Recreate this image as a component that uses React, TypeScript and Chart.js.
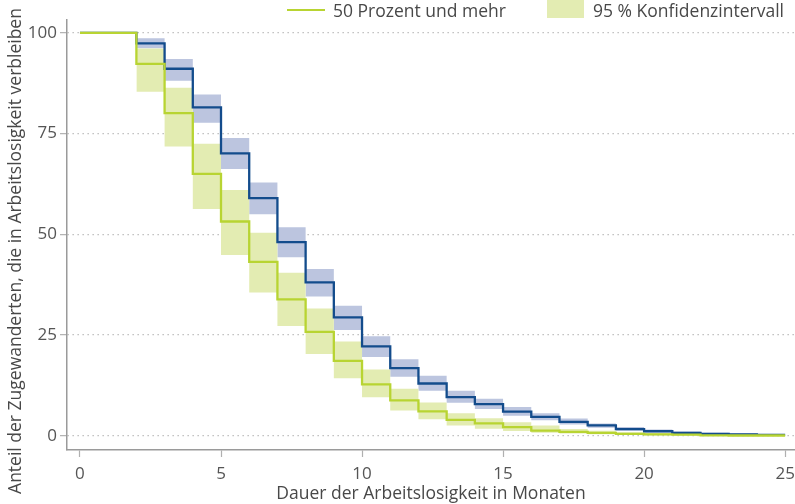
import { useEffect, useRef } from "react";
import { Chart, registerables } from "chart.js";

Chart.register(...registerables);

// ---- data ----
const months = [0, 1, 2, 3, 4, 5, 6, 7, 8, 9, 10, 11, 12, 13, 14, 15, 16, 17, 18, 19, 20, 21, 22, 23, 24];
const endMonth = 25;
const ciStartMonth = 2;
const xTicks = [0, 5, 10, 15, 20, 25];
const yTicks = [0, 25, 50, 75, 100];

// Reference group (blue)
const blueLine = [100, 100, 97.4, 91.1, 81.5, 70.1, 59.0, 48.1, 38.1, 29.4, 22.2, 16.8, 13.0, 9.6, 7.9, 6.0, 4.7, 3.5, 2.6, 1.7, 1.15, 0.75, 0.5, 0.35, 0.25];
const blueUpper = [98.7, 93.5, 84.7, 73.9, 62.9, 51.8, 41.4, 32.3, 24.7, 19.0, 14.9, 11.2, 9.2, 7.2, 5.6, 4.3, 3.1, 2.2, 1.6, 1.1, 0.8, 0.6, 0.5];
const blueLower = [96.2, 88.1, 77.7, 66.2, 55.0, 44.3, 34.6, 26.3, 19.6, 14.7, 11.2, 8.2, 6.7, 5.0, 3.9, 2.8, 2.0, 1.3, 0.85, 0.5, 0.3, 0.15, 0.1];

// "50 Prozent und mehr" (green)
const greenLine = [100, 100, 92.3, 80.1, 65.0, 53.2, 43.2, 33.9, 25.8, 18.6, 12.8, 8.8, 6.1, 4.0, 3.1, 2.2, 1.3, 1.0, 0.75, 0.5, 0.4, 0.3, 0.15, 0.1, 0.1];
const greenUpper = [96.1, 86.4, 72.5, 61.0, 50.4, 40.5, 31.6, 23.4, 16.5, 11.7, 8.3, 5.6, 4.4, 3.4, 2.6, 1.7, 1.3, 0.9, 0.7, 0.55, 0.35, 0.3, 0.25];
const greenLower = [85.4, 71.8, 56.3, 44.9, 35.6, 27.3, 20.3, 14.3, 9.6, 6.3, 4.1, 2.6, 1.8, 1.2, 0.8, 0.6, 0.4, 0.25, 0.15, 0.1, 0.05, 0, 0];

const legendLineLabel = "50 Prozent und mehr";
const legendBoxLabel = "95 % Konfidenzintervall";
const xTitle = "Dauer der Arbeitslosigkeit in Monaten";
const yTitle = "Anteil der Zugewanderten, die in Arbeitslosigkeit verbleiben";

// ---- styles ----
const FONT = "'Open Sans', Lato, sans-serif";
const BLUE = "#134c8c";
const BLUE_BAND = "#bcc5df";
const GREEN = "#b8d432";
const GREEN_BAND = "#e3ecb2";
const TEXT = "#484848";
const AXIS = "#9a9a9a";

function stepPoints(values: number[], start: number) {
  const pts = values.map((v, i) => ({ x: start + i, y: v }));
  pts.push({ x: endMonth, y: values[values.length - 1] });
  return pts;
}

const textPlugin = {
  id: "texts",
  afterDraw(chart: any) {
    const ctx = chart.ctx as CanvasRenderingContext2D;
    const area = chart.chartArea;
    ctx.save();
    ctx.fillStyle = TEXT;
    ctx.font = `17.5px ${FONT}`;
    // x title
    ctx.textAlign = "center";
    ctx.textBaseline = "middle";
    ctx.fillText(xTitle, (area.left + area.right) / 2, 494);
    // y title
    ctx.save();
    ctx.translate(16, 251);
    ctx.rotate(-Math.PI / 2);
    ctx.fillText(yTitle, 0, 0);
    ctx.restore();
    // legend
    ctx.strokeStyle = GREEN;
    ctx.lineWidth = 2;
    ctx.beginPath();
    ctx.moveTo(287, 10);
    ctx.lineTo(325, 10);
    ctx.stroke();
    ctx.fillStyle = GREEN_BAND;
    ctx.fillRect(547, 0, 37, 18);
    ctx.fillStyle = TEXT;
    ctx.textAlign = "left";
    ctx.textBaseline = "alphabetic";
    ctx.fillText(legendLineLabel, 333, 17);
    ctx.fillText(legendBoxLabel, 593, 17);
    ctx.restore();
  },
};

export default function App() {
  const ref = useRef<HTMLCanvasElement | null>(null);
  useEffect(() => {
    if (!ref.current) return;
    const chart = new Chart(ref.current, {
      type: "line",
      data: {
        datasets: [
          {
            label: legendLineLabel,
            data: stepPoints(greenLine, months[0]),
            borderColor: GREEN,
            borderWidth: 2.3,
            stepped: true,
            pointRadius: 0,
            fill: false,
          },
          {
            label: "Unter 50 Prozent",
            data: stepPoints(blueLine, months[0]),
            borderColor: BLUE,
            borderWidth: 2.3,
            stepped: true,
            pointRadius: 0,
            fill: false,
          },
          {
            label: "KI oben grün",
            data: stepPoints(greenUpper, ciStartMonth),
            borderWidth: 0,
            borderColor: "rgba(0,0,0,0)",
            backgroundColor: GREEN_BAND,
            stepped: true,
            pointRadius: 0,
            fill: "+1",
          },
          {
            label: "KI unten grün",
            data: stepPoints(greenLower, ciStartMonth),
            borderWidth: 0,
            borderColor: "rgba(0,0,0,0)",
            stepped: true,
            pointRadius: 0,
            fill: false,
          },
          {
            label: "KI oben blau",
            data: stepPoints(blueUpper, ciStartMonth),
            borderWidth: 0,
            borderColor: "rgba(0,0,0,0)",
            backgroundColor: BLUE_BAND,
            stepped: true,
            pointRadius: 0,
            fill: "+1",
          },
          {
            label: "KI unten blau",
            data: stepPoints(blueLower, ciStartMonth),
            borderWidth: 0,
            borderColor: "rgba(0,0,0,0)",
            stepped: true,
            pointRadius: 0,
            fill: false,
          },
        ],
      },
      options: {
        animation: false,
        responsive: true,
        maintainAspectRatio: false,
        layout: { padding: { top: 20, left: 0, right: 0, bottom: 0 } },
        plugins: {
          legend: { display: false },
          tooltip: { enabled: false },
          filler: { propagate: false },
        },
        scales: {
          x: {
            type: "linear",
            min: -0.46,
            max: 25.35,
            afterBuildTicks: (s: any) => {
              s.ticks = xTicks.map((v) => ({ value: v }));
            },
            afterFit: (s: any) => {
              s.height = 54;
              s.paddingLeft = 0;
              s.paddingRight = 0;
            },
            border: { color: AXIS, width: 1.5 },
            grid: {
              drawOnChartArea: false,
              drawTicks: true,
              tickLength: 7,
              tickColor: "#b0b0b0",
              tickWidth: 1.2,
            },
            ticks: {
              color: "#555555",
              font: { family: FONT, size: 17 },
              padding: 7,
              maxRotation: 0,
            },
          },
          y: {
            type: "linear",
            min: -3.5,
            max: 103.2,
            afterBuildTicks: (s: any) => {
              s.ticks = yTicks.map((v) => ({ value: v }));
            },
            afterFit: (s: any) => {
              s.width = 67;
            },
            border: { color: AXIS, width: 1.5, dash: [1.3, 3.7] },
            grid: {
              drawOnChartArea: true,
              drawTicks: true,
              tickLength: 7,
              color: "#b5b5b5",
              lineWidth: 1.3,
              tickColor: "#b0b0b0",
              tickWidth: 1.2,
              tickBorderDash: [],
            },
            ticks: {
              color: "#555555",
              font: { family: FONT, size: 17 },
              padding: 3,
            },
          },
        },
      },
      plugins: [textPlugin],
    });
    return () => chart.destroy();
  }, []);
  return (
    <div style={{ position: "fixed", left: 0, top: 0, width: 795, height: 504, background: "#fff" }}>
      <canvas ref={ref} />
    </div>
  );
}
